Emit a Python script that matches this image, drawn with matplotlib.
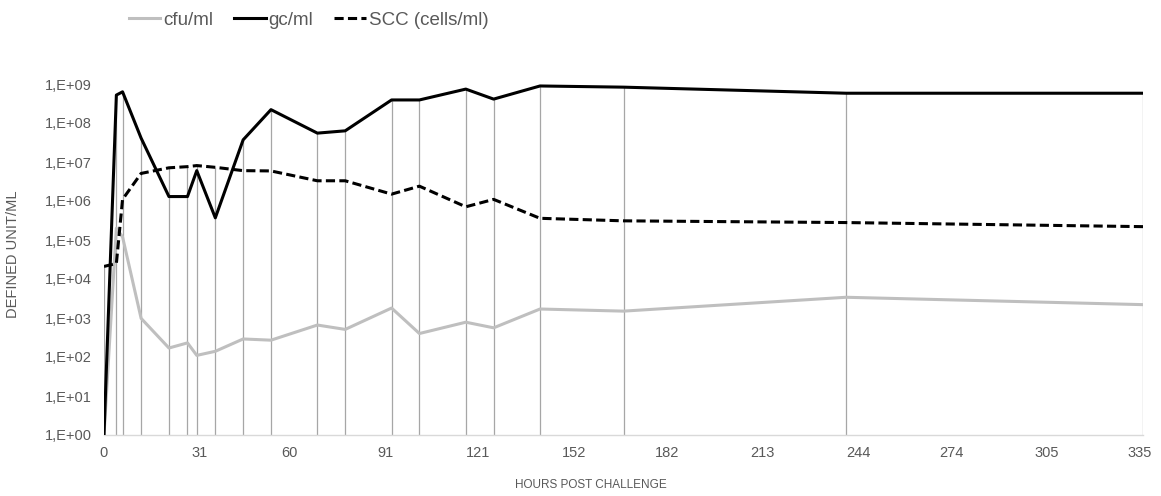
import matplotlib
matplotlib.use("Agg")
import matplotlib.pyplot as plt
from matplotlib.ticker import FixedLocator, FuncFormatter
import numpy as np

plt.rcParams['font.family'] = ['Liberation Sans', 'DejaVu Sans']

hours = [0, 4, 6, 12, 21, 27, 30, 36, 45, 54, 69, 78, 93, 102, 117, 126, 141, 168, 240, 336]
cfu = [1, 2.0e5, 1.2e5, 9.8e2, 1.7e2, 2.3e2, 1.1e2, 1.4e2, 2.9e2, 2.7e2,
       6.6e2, 5.1e2, 1.8e3, 4.0e2, 7.8e2, 5.6e2, 1.7e3, 1.5e3, 3.4e3, 2.2e3]
gc = [1, 5.2e8, 6.3e8, 4.1e7, 1.3e6, 1.3e6, 6.0e6, 3.7e5, 3.7e7, 2.2e8,
      5.5e7, 6.3e7, 3.9e8, 3.9e8, 7.4e8, 4.1e8, 8.9e8, 8.3e8, 5.8e8, 5.8e8]
scc = [2.1e4, 2.5e4, 1.1e6, 5.1e6, 7.1e6, 7.6e6, 8.1e6, 7.3e6, 6.0e6, 5.9e6,
       3.3e6, 3.3e6, 1.5e6, 2.4e6, 7.1e5, 1.1e6, 3.6e5, 3.1e5, 2.8e5, 2.2e5]
x_ticks = [0, 31, 60, 91, 121, 152, 182, 213, 244, 274, 305, 335]
y_ticks = [10.0 ** k for k in range(10)]

txt = '#595959'

fig = plt.figure(figsize=(11.61, 4.96), dpi=100)
ax = fig.add_axes([104 / 1161, 1 - 435 / 496, (1143 - 104) / 1161, (435 - 84) / 496])

# drop lines from the highest series down to the axis
tops = np.max(np.vstack([cfu, gc, scc]), axis=0)
ax.vlines(hours, 1, tops, color='#a6a6a6', lw=0.9, zorder=1)

ax.plot(hours, cfu, color='#bfbfbf', lw=2.2, label='cfu/ml', zorder=2)
ax.plot(hours, gc, color='black', lw=2.2, label='gc/ml', zorder=3)
ax.plot(hours, scc, color='black', lw=2.2, dashes=(3, 1.4), label='SCC (cells/ml)', zorder=3)

ax.set_yscale('log')
ax.set_ylim(1, 1e9)
ax.set_xlim(0, 336)
ax.yaxis.set_major_locator(FixedLocator(y_ticks))
ax.yaxis.set_minor_locator(FixedLocator([]))
ax.yaxis.set_major_formatter(FuncFormatter(lambda v, p: '1,E+%02d' % round(np.log10(v))))
ax.set_xticks(x_ticks)

for s in ['left', 'right', 'top']:
    ax.spines[s].set_visible(False)
ax.spines['bottom'].set_color('#d9d9d9')
ax.spines['bottom'].set_linewidth(1.0)
ax.tick_params(axis='both', length=0, labelsize=10.5, labelcolor=txt)
ax.tick_params(axis='x', pad=8)
ax.tick_params(axis='y', pad=9)

fig.text(591 / 1161, 1 - 485 / 496, 'HOURS POST CHALLENGE', ha='center', va='center',
         fontsize=8.5, color=txt)
fig.text(13 / 1161, 1 - 254 / 496, 'DEFINED UNIT/ML', ha='center', va='center',
         rotation=90, fontsize=10.5, color=txt)

leg = fig.legend(loc='center left', bbox_to_anchor=(121 / 1161, 1 - 20 / 496), ncol=3,
                 frameon=False, fontsize=13.5, handlelength=1.7, handletextpad=0.15,
                 columnspacing=1.1, labelcolor=txt, borderaxespad=0)

fig.savefig('out.png', dpi=100)
